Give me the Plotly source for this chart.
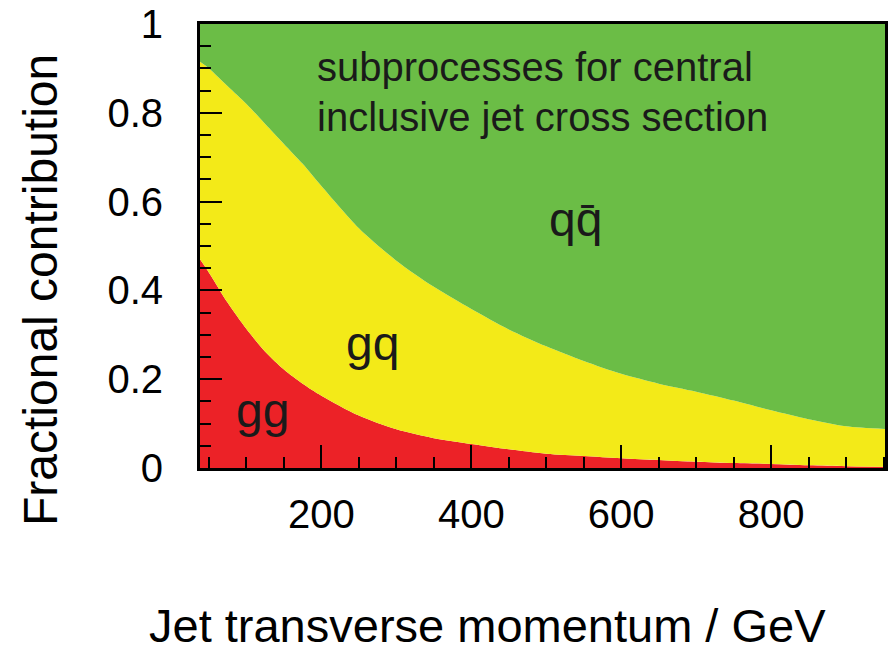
import plotly.graph_objects as go

# Jet transverse momentum (GeV)
pt = [38, 50, 75, 100, 125, 150, 175, 200, 250, 300, 350, 400, 450, 500,
      550, 600, 650, 700, 750, 800, 850, 900, 952]

# Fractional contributions of each subprocess
frac_gg = [0.47, 0.44, 0.372, 0.313, 0.262, 0.222, 0.19, 0.163, 0.118, 0.087, 0.067,
           0.054, 0.042, 0.032, 0.027, 0.022, 0.018, 0.014, 0.011, 0.009, 0.006,
           0.004, 0.003]
frac_gq = [0.445, 0.46, 0.488, 0.507, 0.513, 0.508, 0.495, 0.472, 0.422, 0.38, 0.341,
           0.304, 0.27, 0.242, 0.214, 0.19, 0.172, 0.158, 0.141, 0.121, 0.104,
           0.09, 0.085]
frac_qq = [0.085, 0.10, 0.14, 0.18, 0.225, 0.27, 0.315, 0.365, 0.46, 0.533, 0.592,
           0.642, 0.688, 0.726, 0.759, 0.788, 0.81, 0.828, 0.848, 0.87, 0.89,
           0.906, 0.912]

x_ticks = [200, 400, 600, 800]
y_ticks = [0, 0.2, 0.4, 0.6, 0.8, 1]
y_tick_labels = ["0", "0.2", "0.4", "0.6", "0.8", "1"]

RED = "#ec2227"
YELLOW = "#f3ea18"
GREEN = "#6bbd46"

fig = go.Figure()
for name, vals, col in [("gg", frac_gg, RED), ("gq", frac_gq, YELLOW), ("qq̄", frac_qq, GREEN)]:
    fig.add_trace(go.Scatter(x=pt, y=vals, name=name, mode="lines",
                             stackgroup="one",
                             line=dict(width=0, color=col, shape="spline", smoothing=0.8),
                             fillcolor=col, hoverinfo="x+y+name"))

FONT = "Liberation Sans, Arial, Helvetica, sans-serif"

fig.update_layout(
    width=892, height=652,
    margin=dict(l=200, r=7, t=24, b=184, autoexpand=False),
    paper_bgcolor="white", plot_bgcolor="white",
    showlegend=False,
    font=dict(family=FONT, size=40, color="black"),
)

fig.update_xaxes(
    range=[38, 952], tickvals=x_ticks, ticks="inside", ticklen=23, tickwidth=1.5,
    tickcolor="black", showline=True, linecolor="black", linewidth=3, mirror=True,
    showgrid=False, zeroline=False, ticklabelstandoff=9, automargin=False,
    tickfont=dict(size=40),
    minor=dict(ticks="inside", ticklen=11, dtick=50, tick0=0, tickcolor="black", tickwidth=1.5, showgrid=False),
)
fig.update_yaxes(
    range=[0, 1], tickvals=y_ticks, ticktext=y_tick_labels, ticks="inside", ticklen=22, tickwidth=1.5,
    tickcolor="black", showline=True, linecolor="black", linewidth=3, mirror=True,
    showgrid=False, zeroline=False, ticklabelstandoff=26, automargin=False,
    tickfont=dict(size=40),
    minor=dict(ticks="inside", ticklen=11, dtick=0.05, tick0=0, tickcolor="black", tickwidth=1.5, showgrid=False),
)

# axis titles (placed as in the reference, not centred on the plot area)
fig.add_annotation(xref="paper", yref="paper", x=(40 - 200) / 685, y=(468 - 290) / 444,
                   text="Fractional contribution", textangle=-90, showarrow=False,
                   xanchor="center", yanchor="middle", font=dict(size=48, color="black"))
fig.add_annotation(xref="paper", yref="paper", x=(487 - 200) / 685, y=(468 - 625) / 444,
                   text="Jet transverse momentum / GeV", showarrow=False,
                   xanchor="center", yanchor="middle", font=dict(size=47, color="black"))

fig.add_annotation(x=192, y=0.903, text="subprocesses for central", showarrow=False,
                   xanchor="left", yanchor="middle", font=dict(size=40, color="#1a1a1a"))
fig.add_annotation(x=192, y=0.79, text="inclusive jet cross section", showarrow=False,
                   xanchor="left", yanchor="middle", font=dict(size=40, color="#1a1a1a"))
fig.add_annotation(x=539, y=0.56, text="qq̄", showarrow=False,
                   font=dict(size=48, color="#1a1a1a"))
fig.add_annotation(x=268, y=0.28, text="gq", showarrow=False,
                   font=dict(size=48, color="#1a1a1a"))
fig.add_annotation(x=121, y=0.13, text="gg", showarrow=False,
                   font=dict(size=48, color="#1a1a1a"))

fig.write_html("out.html", config={"displayModeBar": False},
               post_script="document.body.style.margin='0';document.body.style.padding='0';")
